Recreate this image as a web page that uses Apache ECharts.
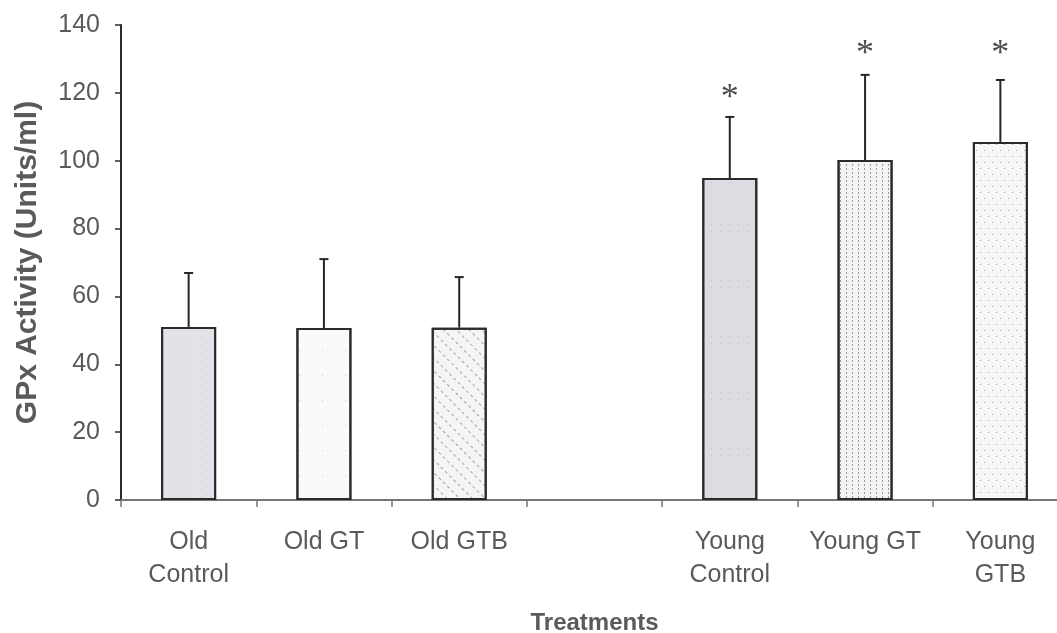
<!DOCTYPE html>
<html>
<head>
<meta charset="utf-8">
<script src="https://cdn.jsdelivr.net/npm/echarts@6/dist/echarts.min.js"></script>
<style>
html,body{margin:0;padding:0;background:#fff;}
#chart{width:1057px;height:633px;}
</style>
</head>
<body>
<div id="chart"></div>
<script>
// ---- data ----
const categories = ['Old\nControl', 'Old GT', 'Old GTB', '', 'Young\nControl', 'Young GT', 'Young\nGTB'];
const means = [51.0, 50.7, 50.8, null, 94.9, 100.2, 105.5];
const sd = [15.9, 20.3, 14.9, null, 18.0, 25.1, 18.3];
const starY = [null, null, null, null, 120.3, 133.5, 133.5];
const yTicks = [0, 20, 40, 60, 80, 100, 120, 140];

const textColor = '#5a5a5a';
const fills = ['#e2e3e8', '#fafafa', '#f5f5f5', '#ffffff', '#dcdde2', '#f3f3f3', '#f7f7f7'];
const decals = [
  {symbol: 'rect', symbolSize: 1, dashArrayX: [1, 9], dashArrayY: [1, 7], color: 'rgba(150,150,160,0.35)'},
  {symbol: 'rect', symbolSize: 1, dashArrayX: [1, 22], dashArrayY: [1, 24], color: 'rgba(150,150,150,0.5)'},
  {symbol: 'rect', symbolSize: 1, dashArrayX: [3, 3], dashArrayY: [1, 8], rotation: Math.PI / 4, color: 'rgba(110,110,110,0.6)'},
  'none',
  {symbol: 'rect', symbolSize: 1, dashArrayX: [1, 8], dashArrayY: [1, 6], color: 'rgba(140,140,150,0.35)'},
  {symbol: 'rect', symbolSize: 1, dashArrayX: [1, 5], dashArrayY: [2, 2], color: 'rgba(120,120,120,0.7)'},
  {symbol: 'rect', symbolSize: 1, dashArrayX: [[1, 7], [0, 4, 1, 3]], dashArrayY: [1, 5], color: 'rgba(120,120,120,0.7)'}
];

const barData = means.map((v, i) => v == null ? '-' : {
  value: v,
  itemStyle: {color: fills[i], decal: decals[i]}
});
const errData = [];
means.forEach((v, i) => { if (v != null) errData.push([i, v, v + sd[i]]); });
const starData = starY.map(v => v == null ? '-' : v);

const chart = echarts.init(document.getElementById('chart'), null, {renderer: 'canvas'});
chart.setOption({
  animation: false,
  backgroundColor: '#ffffff',
  grid: {left: 121, top: 25, height: 475, width: 947, outerBoundsMode: 'none', containLabel: false},
  xAxis: {
    type: 'category',
    data: categories,
    name: 'Treatments',
    nameLocation: 'middle',
    nameGap: 111,
    nameTextStyle: {fontFamily: 'Liberation Sans', fontWeight: 'bold', fontSize: 24, color: textColor},
    axisLine: {lineStyle: {color: '#777', width: 2}},
    axisTick: {show: true, length: 7, lineStyle: {color: '#777', width: 1.5}},
    axisLabel: {
      interval: 0, margin: 26, fontFamily: 'Liberation Sans', fontSize: 25,
      color: textColor, lineHeight: 33, align: 'center'
    }
  },
  yAxis: {
    type: 'value',
    min: 0, max: 140, interval: 20,
    name: 'GPx Activity (Units/ml)',
    nameLocation: 'middle',
    nameGap: 78,
    nameTextStyle: {fontFamily: 'Liberation Sans', fontWeight: 'bold', fontSize: 30, color: textColor},
    axisLine: {show: true, lineStyle: {color: '#2a2a33', width: 2}},
    axisTick: {show: true, length: 6, lineStyle: {color: '#2a2a33', width: 1.5}},
    splitLine: {show: false},
    axisLabel: {
      margin: 21, fontFamily: 'Liberation Sans', fontSize: 25, color: textColor,
      formatter: v => yTicks.indexOf(v) >= 0 ? String(v) : ''
    }
  },
  series: [
    {
      type: 'bar',
      data: barData,
      barWidth: 55,
      itemStyle: {borderColor: '#2b2b2b', borderWidth: 2},
      z: 2
    },
    {
      type: 'custom',
      data: errData,
      z: 3,
      renderItem: function (params, api) {
        const base = api.coord([api.value(0), api.value(1)]);
        const top = api.coord([api.value(0), api.value(2)]);
        const st = {stroke: '#262626', lineWidth: 2};
        return {
          type: 'group',
          children: [
            {type: 'line', shape: {x1: base[0], y1: base[1], x2: top[0], y2: top[1]}, style: st},
            {type: 'line', shape: {x1: top[0] - 4.5, y1: top[1], x2: top[0] + 4.5, y2: top[1]}, style: st}
          ]
        };
      }
    },
    {
      type: 'scatter',
      data: starData,
      symbolSize: 1,
      itemStyle: {color: 'rgba(0,0,0,0)'},
      z: 4,
      label: {
        show: true, position: 'inside', formatter: '*',
        fontFamily: 'Liberation Serif', fontSize: 36, color: '#222', offset: [0, 7]
      }
    }
  ]
});
</script>
</body>
</html>
